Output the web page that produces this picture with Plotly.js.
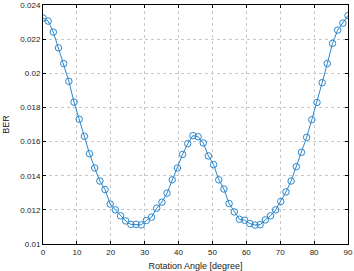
<!DOCTYPE html>
<html>
<head>
<meta charset="utf-8">
<script src="https://cdn.plot.ly/plotly-3.0.1.min.js"></script>
<style>html,body{margin:0;padding:0;background:#fff;}#chart{width:354px;height:271px;}</style>
</head>
<body>
<div id="chart"></div>
<script>
// Rotation angle: 60 samples from 0 to 90 degrees
const nPoints = 60;
const angleStart = 0;
const angleEnd = 90;
const angles = [];
for (let k = 0; k < nPoints; k++) angles.push(angleStart + k * (angleEnd - angleStart) / (nPoints - 1));

const ber = [
  0.02324, 0.02306, 0.02241, 0.02149, 0.02057, 0.01953, 0.01831, 0.01731, 0.01631, 0.01529,
  0.01445, 0.01369, 0.01319, 0.01234, 0.01200, 0.01165, 0.01135, 0.01115, 0.01115, 0.01112,
  0.01138, 0.01157, 0.01210, 0.01245, 0.01298, 0.01376, 0.01445, 0.01525, 0.01588, 0.01635,
  0.01628, 0.01592, 0.01516, 0.01465, 0.01376, 0.01322, 0.01237, 0.01188, 0.01145, 0.01139,
  0.01120, 0.01111, 0.01113, 0.01141, 0.01165, 0.01200, 0.01249, 0.01305, 0.01369, 0.01453,
  0.01537, 0.01625, 0.01728, 0.01829, 0.01945, 0.02057, 0.02175, 0.02253, 0.02294, 0.02338
];

const xTicks = [0, 10, 20, 30, 40, 50, 60, 70, 80, 90];
const yTicks = [0.01, 0.012, 0.014, 0.016, 0.018, 0.02, 0.022, 0.024];
const yTickLabels = ['0.01', '0.012', '0.014', '0.016', '0.018', '0.02', '0.022', '0.024'];

const lineColor = '#2b86cc';
const trace = {
  x: angles, y: ber, type: 'scatter', mode: 'lines+markers',
  line: {color: lineColor, width: 1},
  marker: {symbol: 'circle-open', size: 6.5, color: lineColor, line: {width: 1, color: lineColor}},
  hoverinfo: 'skip'
};

const axisCommon = {
  showline: true, mirror: 'ticks', linecolor: '#000', linewidth: 1,
  ticks: 'inside', ticklen: 3, tickcolor: '#000',
  showgrid: true, gridcolor: '#c8c8c8', griddash: 'dot', gridwidth: 1,
  zeroline: false, tickfont: {family: 'Liberation Sans, Arial, sans-serif', size: 8, color: '#222'}
};

const layout = {
  width: 354, height: 271,
  margin: {l: 43, r: 6, t: 5, b: 27},
  paper_bgcolor: '#fff', plot_bgcolor: '#fff',
  showlegend: false,
  xaxis: Object.assign({}, axisCommon, {
    range: [0, 90], tickvals: xTicks, ticktext: xTicks.map(String),
    title: {text: 'Rotation Angle [degree]', font: {family: 'Liberation Sans, Arial, sans-serif', size: 9, color: '#222'}, standoff: 9}
  }),
  yaxis: Object.assign({}, axisCommon, {
    range: [0.01, 0.024], tickvals: yTicks, ticktext: yTickLabels,
    title: {text: 'BER', font: {family: 'Liberation Sans, Arial, sans-serif', size: 9, color: '#222'}, standoff: 9}
  })
};

Plotly.newPlot('chart', [trace], layout, {displayModeBar: false, staticPlot: true});
</script>
</body>
</html>
